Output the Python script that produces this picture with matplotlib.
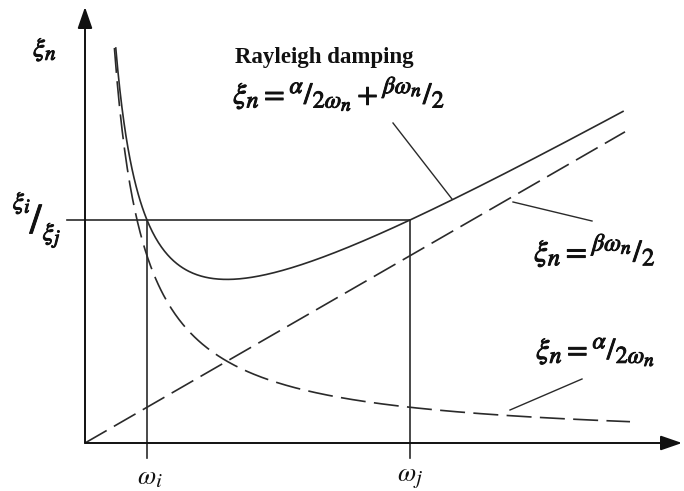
import numpy as np
import matplotlib
matplotlib.use("Agg")
import matplotlib.pyplot as plt
import matplotlib.patheffects as pe
import matplotlib._mathtext as mathtext_internal

plt.rcParams["mathtext.fontset"] = "stix"
# slightly larger super/subscripts for the fraction-style formulas
mathtext_internal.SHRINK_FACTOR = 0.8

# Two reference frequencies and the damping ratio matched at both
omega_i = 62.0
omega_j = 325.0
xi_ij = 223.0

# Rayleigh coefficients: xi = alpha/(2 w) + beta*w/2 equals xi_ij at omega_i and omega_j
beta = 2 * xi_ij / (omega_i + omega_j)
alpha = beta * omega_i * omega_j

y_top = 395.0          # curves are cut off here
x_end_solid = 538.0
x_end_beta = 540.0
x_end_alpha = 545.0

fig = plt.figure(figsize=(6.84, 4.91), dpi=100)
ax = fig.add_axes([0, 0, 1, 1])
ax.set_xlim(-85, 599)
ax.set_ylim(-48, 443)
ax.axis("off")

ink = "#2a2a2a"
lw = 1.2
dash = (15, 5)
txt = "#111111"
bold = [pe.withStroke(linewidth=0.7, foreground=txt)]

# coordinate axes with filled arrowheads
ax.annotate("", xy=(597, 0), xytext=(0, 0),
            arrowprops=dict(arrowstyle="-|>,head_length=1.3,head_width=0.45",
                            color=txt, lw=1.4, shrinkA=0, shrinkB=0))
ax.annotate("", xy=(0, 436), xytext=(0, 0),
            arrowprops=dict(arrowstyle="-|>,head_length=1.3,head_width=0.45",
                            color=txt, lw=1.4, shrinkA=0, shrinkB=0))

# stiffness-proportional term: beta*omega/2
w_b = np.linspace(0, x_end_beta, 200)
ax.plot(w_b, beta * w_b / 2, color=ink, lw=lw, dashes=dash)

# mass-proportional term: alpha/(2 omega)
w_a0 = alpha / (2 * y_top)
w_a = np.linspace(w_a0, x_end_alpha, 400)
ax.plot(w_a, alpha / (2 * w_a), color=ink, lw=lw, dashes=dash)

# full Rayleigh damping curve
a2, b2 = alpha / 2, beta / 2
w_s0 = (y_top - np.sqrt(y_top**2 - 4 * a2 * b2)) / (2 * b2)
w_s = np.linspace(w_s0, x_end_solid, 500)
ax.plot(w_s, a2 / w_s + b2 * w_s, color=ink, lw=lw)

# reference frequencies and matched damping ratio
ax.plot([-18, omega_j], [xi_ij, xi_ij], color=ink, lw=lw)
ax.plot([omega_i, omega_i], [-15, xi_ij], color=ink, lw=lw)
ax.plot([omega_j, omega_j], [-15, xi_ij], color=ink, lw=lw)

# leader lines
ax.plot([308, 367], [320, 244], color=ink, lw=1.0)
ax.plot([428, 507], [241, 222], color=ink, lw=1.0)
ax.plot([425, 497], [33, 64], color=ink, lw=1.0)

# labels
ax.text(-40, 394, r"$\xi_n$", fontsize=19, ha="center", va="center",
        color=txt, path_effects=bold)
ax.text(-63, 240, r"$\xi_i$", fontsize=18, ha="center", va="center",
        color=txt, path_effects=bold)
ax.text(-48, 222, r"$/$", fontsize=30, ha="center", va="center",
        color=txt, path_effects=bold)
ax.text(-33, 208, r"$\xi_j$", fontsize=18, ha="center", va="center",
        color=txt, path_effects=bold)

ax.text(150, 386, "Rayleigh damping", fontsize=16.5, fontweight="bold",
        family="Liberation Serif", color=txt, ha="left", va="center")
ax.text(148, 349,
        r"$\xi_n = {}^{\alpha}/_{2\omega_n} + {}^{\beta\omega_n}/_{2}$",
        fontsize=21.5, ha="left", va="center", color=txt,
        path_effects=bold)
ax.text(449, 193, r"$\xi_n = {}^{\beta\omega_n}/_{2}$", fontsize=22,
        ha="left", va="center", color=txt, path_effects=bold)
ax.text(451, 91, r"$\xi_n = {}^{\alpha}/_{2\omega_n}$", fontsize=21.5,
        ha="left", va="center", color=txt, path_effects=bold)

ax.text(65, -34, r"$\omega_i$", fontsize=19, ha="center", va="center",
        color=txt)
ax.text(omega_j, -34, r"$\omega_j$", fontsize=19, ha="center", va="center",
        color=txt)

fig.savefig("out.png", dpi=100, facecolor="white")
